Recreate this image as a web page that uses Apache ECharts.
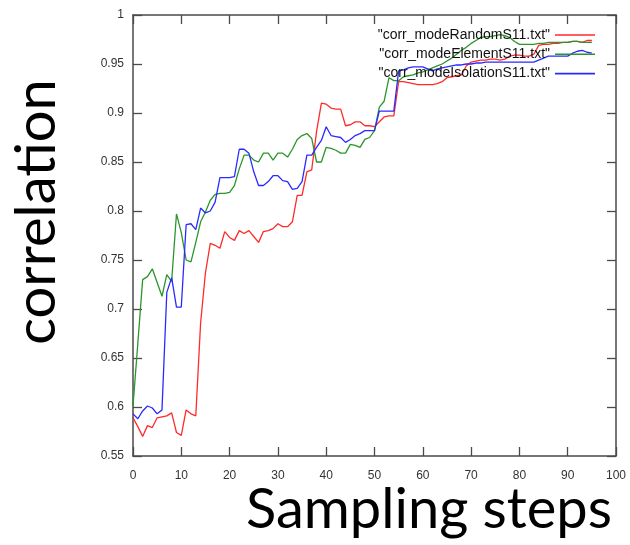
<!DOCTYPE html>
<html>
<head>
<meta charset="utf-8">
<script src="https://cdn.jsdelivr.net/npm/echarts@6/dist/echarts.min.js"></script>
<style>
  html, body { margin: 0; padding: 0; background: #fff; }
  #chart { width: 630px; height: 545px; }
</style>
</head>
<body>
<div id="chart"></div>
<script>
// sampling steps 0..95
const steps = Array.from({ length: 96 }, (_, i) => i)

const randomS11 = [
  0.589, 0.580, 0.570, 0.581, 0.579, 0.589, 0.590, 0.591, 0.594, 0.574,
  0.571, 0.597, 0.593, 0.591, 0.686, 0.737, 0.767, 0.765, 0.762, 0.779,
  0.773, 0.770, 0.780, 0.777, 0.780, 0.774, 0.768, 0.779, 0.780, 0.782,
  0.787, 0.784, 0.784, 0.789, 0.816, 0.816, 0.840, 0.842, 0.881, 0.910,
  0.909, 0.905, 0.904, 0.904, 0.887, 0.888, 0.891, 0.891, 0.887, 0.887,
  0.886, 0.891, 0.896, 0.897, 0.897, 0.932, 0.932, 0.931, 0.930, 0.929,
  0.929, 0.929, 0.929, 0.930, 0.932, 0.936, 0.937, 0.938, 0.939, 0.948,
  0.952, 0.953, 0.954, 0.954, 0.955, 0.955, 0.954, 0.955, 0.958, 0.959,
  0.959, 0.958, 0.958, 0.960, 0.969, 0.970, 0.970, 0.971, 0.971, 0.972,
  0.972, 0.973, 0.973, 0.972, 0.974, 0.974
]

const elementS11 = [
  0.601, 0.665, 0.730, 0.733, 0.741, 0.727, 0.713, 0.735, 0.728, 0.797,
  0.778, 0.750, 0.748, 0.768, 0.789, 0.799, 0.811, 0.817, 0.818, 0.818,
  0.819, 0.826, 0.843, 0.857, 0.857, 0.852, 0.850, 0.859, 0.859, 0.852,
  0.859, 0.859, 0.855, 0.863, 0.873, 0.877, 0.879, 0.874, 0.850, 0.850,
  0.865, 0.864, 0.862, 0.859, 0.859, 0.868, 0.867, 0.865, 0.873, 0.875,
  0.882, 0.906, 0.912, 0.936, 0.933, 0.933, 0.937, 0.938, 0.939, 0.941,
  0.942, 0.944, 0.946, 0.948, 0.950, 0.953, 0.956, 0.960, 0.964, 0.967,
  0.971, 0.974, 0.977, 0.978, 0.978, 0.979, 0.980, 0.979, 0.977, 0.973,
  0.970, 0.970, 0.970, 0.970, 0.971, 0.971, 0.972, 0.972, 0.972, 0.972,
  0.972, 0.973, 0.973, 0.972, 0.972, 0.972
]

const isolationS11 = [
  0.593, 0.588, 0.596, 0.601, 0.599, 0.593, 0.597, 0.717, 0.732, 0.702,
  0.702, 0.786, 0.787, 0.781, 0.803, 0.798, 0.800, 0.809, 0.834, 0.834,
  0.834, 0.835, 0.863, 0.863, 0.859, 0.840, 0.826, 0.826, 0.830, 0.836,
  0.836, 0.831, 0.830, 0.822, 0.823, 0.830, 0.857, 0.857, 0.865, 0.872,
  0.886, 0.877, 0.876, 0.875, 0.870, 0.873, 0.877, 0.879, 0.882, 0.882,
  0.882, 0.902, 0.902, 0.902, 0.902, 0.943, 0.944, 0.946, 0.947, 0.947,
  0.947, 0.945, 0.943, 0.945, 0.946, 0.947, 0.948, 0.949, 0.949, 0.950,
  0.950, 0.951, 0.951, 0.952, 0.952, 0.952, 0.952, 0.952, 0.952, 0.952,
  0.952, 0.952, 0.952, 0.952, 0.954, 0.956, 0.958, 0.958, 0.958, 0.958,
  0.958, 0.961, 0.963, 0.964, 0.962, 0.961
]

const seriesNames = [
  '"corr_modeRandomS11.txt"',
  '"corr_modeElementS11.txt"',
  '"corr_modeIsolationS11.txt"'
]
const seriesColors = ['#ff2a2a', '#2a962a', '#2a2aff']
const seriesValues = [randomS11, elementS11, isolationS11]

const chart = echarts.init(document.getElementById('chart'), null, { renderer: 'canvas' })

// fresh objects for every axis, ticks point into the plot
function frameLine() {
  return { show: true, onZero: false, lineStyle: { color: '#4a4a4a', width: 1.5 } }
}
function innerTick() {
  return { show: true, inside: true, length: 9, lineStyle: { color: '#4a4a4a', width: 1.3 } }
}
const tickFont = { color: '#333', fontSize: 12, fontFamily: 'Liberation Sans' }

chart.setOption({
  animation: false,
  backgroundColor: '#fff',
  grid: { left: 133, right: 14, top: 15, bottom: 89, containLabel: false },
  legend: seriesNames.map((name, i) => ({
    data: [name],
    right: 30,
    top: 23 + i * 19.3,
    align: 'right',
    icon: 'rect',
    itemWidth: 40,
    itemHeight: 1.6,
    textStyle: { color: '#111', fontSize: 14, fontFamily: 'Liberation Sans' },
    selectedMode: false
  })),
  xAxis: [
    {
      type: 'value', position: 'bottom', min: 0, max: 100, interval: 10,
      axisLine: frameLine(), axisTick: innerTick(),
      axisLabel: { ...tickFont, inside: false, margin: 14 },
      splitLine: { show: false }
    },
    {
      type: 'value', position: 'top', min: 0, max: 100, interval: 10,
      axisLine: frameLine(), axisTick: innerTick(),
      axisLabel: { show: false }, splitLine: { show: false }
    }
  ],
  yAxis: [
    {
      type: 'value', position: 'left', min: 0.55, max: 1, interval: 0.05,
      axisLine: frameLine(), axisTick: innerTick(),
      axisLabel: { ...tickFont, inside: false, margin: 9, formatter: (v) => String(+v.toFixed(2)) },
      splitLine: { show: false }
    },
    {
      type: 'value', position: 'right', min: 0.55, max: 1, interval: 0.05,
      axisLine: frameLine(), axisTick: innerTick(),
      axisLabel: { show: false }, splitLine: { show: false }
    }
  ],
  graphic: [
    {
      type: 'text',
      x: 65, y: 212, rotation: Math.PI / 2,
      style: {
        text: 'correlation', fontSize: 56, fontFamily: 'Lato',
        fill: '#000', align: 'center', verticalAlign: 'bottom'
      }
    },
    {
      type: 'text',
      right: 18, top: 482,
      style: { text: 'Sampling steps', fontSize: 56, fontFamily: 'Lato', fill: '#000' }
    }
  ],
  series: seriesNames.map((name, i) => ({
    name,
    type: 'line',
    xAxisIndex: 0,
    yAxisIndex: 0,
    symbol: 'none',
    data: steps.map((s, j) => [s, seriesValues[i][j]]),
    lineStyle: { width: 1.3, color: seriesColors[i] },
    itemStyle: { color: seriesColors[i] }
  }))
})
</script>
</body>
</html>
